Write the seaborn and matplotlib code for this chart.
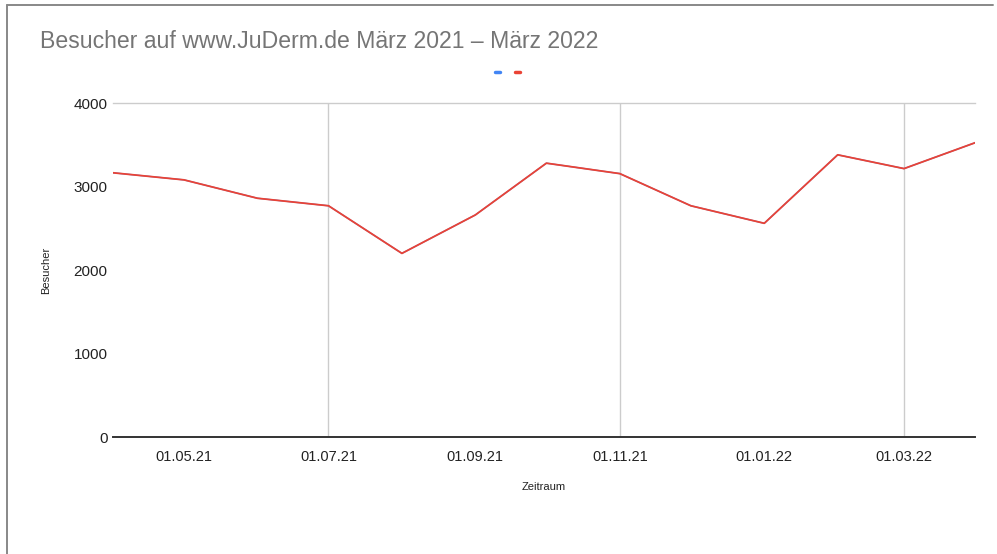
import matplotlib
matplotlib.use("Agg")
import matplotlib.pyplot as plt
import matplotlib.dates as mdates
from matplotlib.lines import Line2D
import seaborn as sns
import pandas as pd

# Data
dates = ["2021-04-01", "2021-05-01", "2021-06-01", "2021-07-01", "2021-08-01",
         "2021-09-01", "2021-10-01", "2021-11-01", "2021-12-01", "2022-01-01",
         "2022-02-01", "2022-03-01", "2022-04-01"]
besucher = [3165, 3080, 2860, 2770, 2200, 2660, 3280, 3155, 2770, 2560, 3380, 3215, 3535]
series_names = ["A", "B"]
series_colors = ["#4285F4", "#EA4335"]
y_ticks = [0, 1000, 2000, 3000, 4000]

title = "Besucher auf www.JuDerm.de März 2021 – März 2022"
x_label = "Zeitraum"
y_label = "Besucher"

sns.set_theme(style="white")
plt.rcParams["font.family"] = ["Liberation Sans", "DejaVu Sans"]

df = pd.concat([
    pd.DataFrame({"Datum": pd.to_datetime(dates), "Besucher": besucher, "Serie": s})
    for s in series_names
], ignore_index=True)

fig = plt.figure(figsize=(9.97, 5.54), dpi=100)
ax = fig.add_axes([0.1133, 0.211, 0.8647, 0.603])

sns.lineplot(data=df, x="Datum", y="Besucher", hue="Serie", palette=series_colors,
             ax=ax, legend=False, linewidth=1.2, estimator=None)
lines = ax.get_lines()
if len(lines) >= 2:
    lines[0].set_linewidth(1.0)
    lines[0].set_zorder(2)
    lines[1].set_linewidth(1.3)
    lines[1].set_zorder(3)

ax.set_xlim(pd.Timestamp(dates[0]), pd.Timestamp(dates[-1]) - pd.Timedelta(days=1))
ax.set_ylim(0, 4000)
ax.set_yticks(y_ticks)
ax.set_yticklabels([str(v) for v in y_ticks], fontsize=11, color="#222222")

ax.xaxis.set_major_locator(mdates.MonthLocator(bymonth=[1, 3, 5, 7, 9, 11]))
ax.xaxis.set_major_formatter(mdates.DateFormatter("%d.%m.%y"))
ax.xaxis.set_minor_locator(mdates.MonthLocator(bymonth=[3, 7, 11]))
ax.xaxis.remove_overlapping_locs = False
ax.tick_params(axis="x", which="both", length=0, pad=9, labelsize=10.5, labelcolor="#222222")
ax.tick_params(axis="y", length=0, pad=4)
ax.grid(False)
ax.grid(True, axis="x", which="minor", color="#cccccc", linewidth=1.0)
ax.set_axisbelow(True)

for s in ["left", "right"]:
    ax.spines[s].set_visible(False)
ax.spines["top"].set_color("#cccccc")
ax.spines["top"].set_linewidth(1.0)
ax.spines["bottom"].set_color("#333333")
ax.spines["bottom"].set_linewidth(1.4)
ax.spines["bottom"].set_zorder(5)

ax.set_xlabel(x_label, fontsize=8, color="#222222", labelpad=13)
ax.set_ylabel(y_label, fontsize=8, color="#222222", labelpad=16)

fig.text(0.040, 1 - 42 / 554, title, fontsize=16.6, color="#757575", va="center", ha="left")

handles = [Line2D([], [], color=c, linewidth=2.5) for c in series_colors]
fig.legend(handles, ["", ""], loc="center", bbox_to_anchor=(0.509, 1 - 73 / 554),
           ncol=2, frameon=False, handlelength=0.5, handletextpad=0.0,
           columnspacing=1.3, fontsize=8)

# outer frame (top and left)
fig.add_artist(Line2D([7 / 997, 993 / 997], [1 - 5 / 554, 1 - 5 / 554],
                      transform=fig.transFigure, color="#888888", linewidth=1.4))
fig.add_artist(Line2D([7 / 997, 7 / 997], [1 - 5 / 554, 0],
                      transform=fig.transFigure, color="#888888", linewidth=1.4))

fig.savefig("out.png", dpi=100, facecolor="white")
